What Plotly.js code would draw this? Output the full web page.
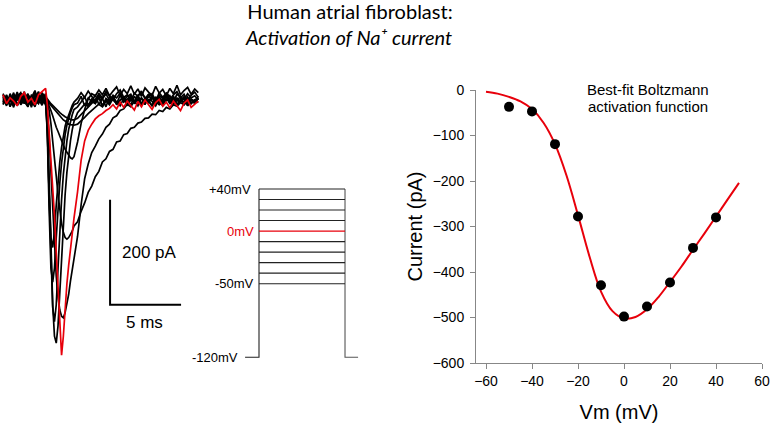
<!DOCTYPE html>
<html><head><meta charset="utf-8">
<script src="https://cdn.plot.ly/plotly-3.0.1.min.js"></script>
<style>html,body{margin:0;padding:0;background:#fff;} #chart{width:773px;height:426px;}</style>
</head><body><div id="chart"></div>
<script>
const W = 773, H = 426;

// ---- I-V relationship (right panel) ----
const vmSteps = [-50, -40, -30, -20, -10, 0, 10, 20, 30, 40];
const peakCurrent = [-37, -47, -119, -278, -429, -498, -476, -423, -347, -280];
const fitVm = [-60,-55,-50,-45,-40,-35,-30,-25,-20,-15,-10,-5,0,5,10,15,20,25,30,35,40,45,50];
const fitCurrent = [-4,-8,-15,-25,-42,-72,-119,-188,-275,-366,-443,-486,-502,-499,-482,-455,-422,-388,-351,-315,-278,-241,-204];
const xTicks = [-60, -40, -20, 0, 20, 40, 60];
const yTicks = [0, -100, -200, -300, -400, -500, -600];

// ---- current traces (left panel), time in ms, current in pA ----
const traceTime = [0,0.25,0.5,0.75,1,1.25,1.5,1.75,2,2.25,2.5,2.75,3,
  3.125,3.25,3.375,3.5,3.625,3.75,3.875,4,4.125,4.25,4.375,4.5,4.625,4.75,4.875,5,
  5.25,5.5,5.75,6,6.25,6.5,6.75,7,7.25,7.5,7.75,8,8.25,8.5,8.75,9,9.25,9.5,9.75,10,10.25,10.5,10.75,11,11.25,11.5,11.75,12,12.25,12.5,12.75,13,13.25,13.5,13.75];
const traceP40 = [6,-9,12,-3,15,-6,9,-12,4,18,-5,10,-3, -60,-180,-262,-281,-250,-200,-155,-118,-90,-68,-50,-38,-28,-18,-10,-4, 3,14,5,17,8,-3,13,4,16,7,0,12,19,5,10,-2,13,7,17,3,11,8,-4,14,5,13,1,10,16,4,11,-3,9,15,5];
const traceP30 = [-4,10,-13,7,0,13,-7,6,-14,9,2,-10,7, -70,-210,-320,-347,-320,-262,-205,-158,-120,-90,-66,-48,-34,-24,-15,-9, -6,7,-11,4,-3,10,-9,3,-13,6,0,-7,9,-4,2,-10,7,-2,4,-9,11,-3,-11,6,-4,9,-7,3,-2,7,-10,4,0,-6,3];
const traceP20 = [9,-6,3,-14,10,-2,16,-9,6,-4,13,-7,0, -55,-180,-310,-395,-422,-390,-320,-250,-190,-142,-105,-78,-56,-40,-28,-18, -13,-4,6,-10,2,-6,9,-13,3,-3,7,-9,0,4,-11,6,-4,10,-7,2,-3,7,-10,3,-6,9,-2,-9,4,-4,6,-11,2,-3,7];
const traceP10 = [-9,4,-3,11,-10,6,-2,-13,9,3,-6,14,4, -45,-150,-280,-390,-450,-463,-430,-365,-295,-232,-180,-138,-104,-78,-57,-41, -24,-15,-8,-12,-3,-7,4,-10,0,-6,7,-4,-11,3,-2,9,-7,2,-9,4,-3,-10,6,-4,0,7,-6,3,-9,2,-4,6,-7,0,4];
const trace0 = [10,-7,4,-2,-11,7,14,-4,3,-9,10,17,22, -10,-60,-120,-170,-220,-290,-360,-440,-486,-450,-395,-350,-315,-285,-250,-225, -175,-115,-78,-58,-46,-36,-30,-26,-20,-16,-9,-17,-4,-14,-2,-10,-19,-3,-13,0,-9,-18,-5,1,-12,-4,-15,-2,-11,-20,-6,0,-14,-7,-2];
const traceM10 = [3,-11,7,-4,13,-9,0,10,-6,15,-3,6,-10, -20,-70,-140,-210,-280,-335,-375,-400,-412,-415,-405,-390,-370,-345,-325,-305, -260,-200,-150,-122,-100,-88,-74,-65,-52,-46,-34,-30,-20,-17,-8,-13,-2,-11,4,-7,0,-12,5,-6,-10,2,-5,8,-9,-2,5,-11,0,-6,3];
const traceM20 = [-7,8,-3,14,-11,4,-6,11,-1,-13,7,0,12, -5,-20,-45,-75,-110,-145,-180,-210,-235,-252,-262,-265,-262,-256,-250,-240, -232,-212,-196,-176,-164,-146,-136,-118,-112,-98,-94,-80,-78,-66,-64,-54,-52,-44,-42,-35,-34,-27,-28,-20,-22,-14,-17,-9,-12,-5,-9,-2,-7,0,-5];
const traceM30 = [12,-1,6,-10,3,11,-4,8,-8,4,16,-5,8, -3,-10,-20,-30,-42,-52,-60,-70,-78,-86,-94,-100,-106,-110,-112,-108, -80,-45,-18,2,12,8,19,10,22,8,17,25,9,20,12,27,11,21,7,23,15,9,26,13,20,8,22,12,28,10,18,24,11,21,14];
const traceM40 = [-3,7,-12,4,10,-7,1,12,-10,6,-1,8,-4, 0,-6,-10,-14,-18,-22,-27,-30,-34,-38,-40,-44,-46,-47,-48,-48, -46,-40,-33,-26,-20,-15,-8,-13,-2,-9,3,-7,-1,6,-8,0,-4,7,-11,1,-5,4,-3,-9,3,-1,8,-7,0,-4,6,-8,1,-3,4];
const traceM50 = [10,-4,1,-8,6,14,-3,-11,7,0,-7,11,3, 2,-3,-7,-10,-14,-17,-20,-24,-27,-30,-32,-34,-36,-37,-38,-38, -35,-28,-20,-12,-5,0,8,2,12,-1,9,4,13,0,7,11,-3,8,14,4,5,12,-1,9,3,13,7,-4,11,5,1,12,4,8,0];
const traceVoltages = [-50, -40, -30, -20, 40, 30, 20, 10, -10, 0];
const traceSeries = [traceM50, traceM40, traceM30, traceM20, traceP40, traceP30, traceP20, traceP10, traceM10, trace0];

// scale bar: 200 pA by 5 ms
const scaleBarTime = [7.54, 7.54, 12.54];
const scaleBarCurrent = [-190, -390, -390];

// ---- voltage protocol (mV), arbitrary time units ----
const protocolLevels = [40, 30, 20, 10, 0, -10, -20, -30, -40, -50];
const holdingPotential = -120;
const protocolTimes = [-8.1, 0, 50, 57.6]; // hold start, step on, step off, hold end
const protocolLabels = ['+40mV', '0mV', '-50mV', '-120mV'];
const protocolLabelLevels = [40, 0, -50, -120];

const RED = '#e8000b';
const px = x => x / W, py = y => 1 - y / H;

const data = [];
data.push({x: fitVm, y: fitCurrent, xaxis: 'x', yaxis: 'y', mode: 'lines',
  line: {color: RED, width: 2, shape: 'spline'}, hoverinfo: 'skip'});
data.push({x: vmSteps, y: peakCurrent, xaxis: 'x', yaxis: 'y', mode: 'markers',
  marker: {color: '#000', size: 10}});
traceSeries.forEach((s, i) => {
  data.push({x: traceTime, y: s, xaxis: 'x2', yaxis: 'y2', mode: 'lines',
    line: {color: traceVoltages[i] === 0 ? RED : '#000', width: 1.7}, name: traceVoltages[i] + ' mV'});
});
data.push({x: scaleBarTime, y: scaleBarCurrent, xaxis: 'x2', yaxis: 'y2', mode: 'lines',
  line: {color: '#000', width: 2}});
const tOn = protocolTimes[1], tOff = protocolTimes[2];
data.push({x: [protocolTimes[0], tOn, tOn], y: [holdingPotential, holdingPotential, Math.max(...protocolLevels)],
  xaxis: 'x3', yaxis: 'y3', mode: 'lines', line: {color: '#222', width: 1.1}});
data.push({x: [tOff, tOff, protocolTimes[3]], y: [Math.max(...protocolLevels), holdingPotential, holdingPotential],
  xaxis: 'x3', yaxis: 'y3', mode: 'lines', line: {color: '#555', width: 1.1}});
protocolLevels.forEach(v => {
  data.push({x: [tOn, tOff], y: [v, v], xaxis: 'x3', yaxis: 'y3', mode: 'lines',
    line: {color: v === 0 ? RED : '#222', width: 1.1}});
});

const hidden = {showline: false, showgrid: false, zeroline: false, showticklabels: false, ticks: ''};
const axisCol = '#878787';

const annotations = [
  {xref: 'paper', yref: 'paper', x: px(348), y: py(37), text: '<i>Activation of Na⁺ current</i>', showarrow: false,
    xanchor: 'center', yanchor: 'middle', font: {family: 'Lato, sans-serif', size: 20, color: '#000'}},
  {xref: 'x2', yref: 'y2', x: 8.24, y: -290, text: '200 pA', showarrow: false, xanchor: 'left', yanchor: 'middle', font: {size: 17}},
  {xref: 'x2', yref: 'y2', x: 9.93, y: -423, text: '5 ms', showarrow: false, xanchor: 'center', yanchor: 'middle', font: {size: 17}},
  {xref: 'paper', yref: 'paper', x: px(648), y: py(90), text: 'Best-fit Boltzmann', showarrow: false, xanchor: 'center', yanchor: 'middle', font: {size: 15}},
  {xref: 'paper', yref: 'paper', x: px(648), y: py(106), text: 'activation function', showarrow: false, xanchor: 'center', yanchor: 'middle', font: {size: 15}}
];
const labelRight = [-3.5, -1.7, -1.7, -11.2];
protocolLabels.forEach((t, i) => {
  annotations.push({xref: 'x3', yref: 'y3', x: labelRight[i], y: protocolLabelLevels[i], text: t, showarrow: false,
    xanchor: 'right', yanchor: 'middle', font: {size: 13, color: protocolLabelLevels[i] === 0 ? RED : '#000'}});
});

const layout = {
  width: W, height: H, margin: {l: 0, r: 0, t: 0, b: 0}, showlegend: false,
  paper_bgcolor: '#fff', plot_bgcolor: 'rgba(0,0,0,0)',
  font: {family: '"Liberation Sans", Arial, sans-serif', color: '#000'},
  title: {text: 'Human atrial fibroblast:',
    x: px(350), xanchor: 'center', xref: 'paper', y: 1 - 12 / H, yanchor: 'middle', yref: 'container',
    font: {family: 'Lato, sans-serif', size: 20, color: '#000'}},
  xaxis: {domain: [px(476), px(762)], range: [-64.35, 60], tickvals: xTicks, ticks: 'outside', ticklen: 5,
    tickcolor: axisCol, showline: true, linecolor: axisCol, linewidth: 1, showgrid: false, zeroline: false,
    tickfont: {size: 14}, anchor: 'y', title: {text: 'Vm (mV)', font: {size: 20}, standoff: 17}},
  yaxis: {domain: [py(363), py(90)], range: [-600, 0], tickvals: yTicks, ticks: 'outside', ticklen: 5,
    tickcolor: axisCol, showline: true, linecolor: axisCol, linewidth: 1, showgrid: false, zeroline: false,
    tickfont: {size: 14}, ticklabelstandoff: 3, anchor: 'x', title: {text: 'Current (pA)', font: {size: 20}, standoff: 4}},
  xaxis2: Object.assign({domain: [0, 0.3], range: [-3 / 14.2, (0.3 * W - 3) / 14.2], anchor: 'y2'}, hidden),
  yaxis2: Object.assign({domain: [py(370), py(80)], range: [-514.3, 38.1], anchor: 'x2'}, hidden),
  xaxis3: Object.assign({domain: [px(230), px(370)], range: [-16.86, 64.53], anchor: 'y3'}, hidden),
  yaxis3: Object.assign({domain: [py(365), py(180)], range: [-127.3, 48.56], anchor: 'x3'}, hidden),
  annotations: annotations
};

Plotly.newPlot('chart', data, layout, {displayModeBar: false, staticPlot: true});
</script></body></html>
